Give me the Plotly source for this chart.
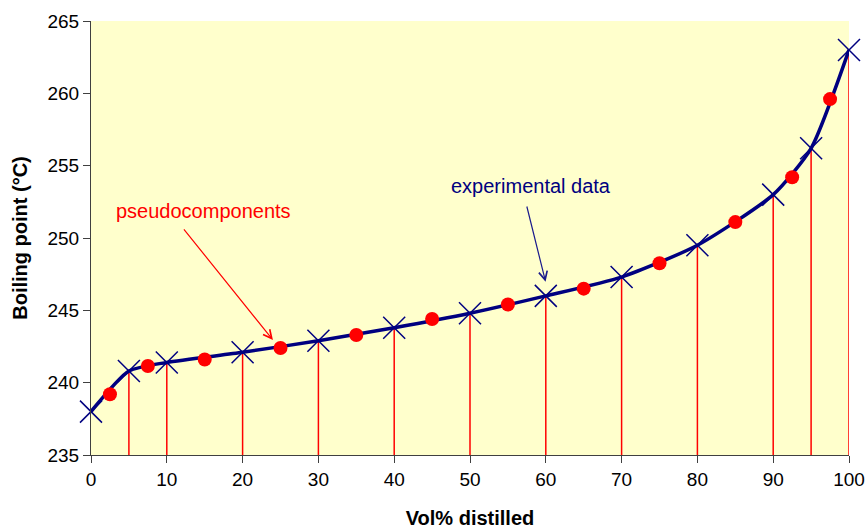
import plotly.graph_objects as go

# Distillation curve: measured boiling points vs. volume % distilled
exp_vol = [0, 5, 10, 20, 30, 40, 50, 60, 70, 80, 90, 95, 100]
exp_bp = [238.0, 240.8, 241.4, 242.1, 242.9, 243.8, 244.8, 246.0, 247.3, 249.5, 253.0, 256.2, 263.0]

# Pseudocomponents taken at the mid-point of each cut
pc_vol = [2.5, 7.5, 15, 25, 35, 45, 55, 65, 75, 85, 92.5, 97.5]
pc_bp = [239.2, 241.15, 241.6, 242.4, 243.3, 244.4, 245.4, 246.5, 248.25, 251.1, 254.2, 259.6]

x_ticks = list(range(0, 101, 10))
y_ticks = list(range(235, 266, 5))

Y_MIN, Y_MAX = 235, 265

NAVY = "#000080"
RED = "#FF0000"
FONT = "Arial, Liberation Sans, sans-serif"

fig = go.Figure()

# Cut-point drop lines from the curve down to the x axis
cut_x, cut_y = [], []
for v, b in zip(exp_vol[1:], exp_bp[1:]):
    cut_x += [v, v, None]
    cut_y += [Y_MIN, b, None]
fig.add_trace(go.Scatter(x=cut_x, y=cut_y, mode="lines",
                         line=dict(color=RED, width=1.5),
                         hoverinfo="skip", showlegend=False))

# Smoothed distillation curve
fig.add_trace(go.Scatter(x=exp_vol, y=exp_bp, mode="lines",
                         line=dict(color=NAVY, width=3.5, shape="spline", smoothing=0.6),
                         hoverinfo="skip", showlegend=False))

# Experimental points
fig.add_trace(go.Scatter(x=exp_vol, y=exp_bp, mode="markers",
                         marker=dict(symbol="x-thin", size=22,
                                     line=dict(color=NAVY, width=1.5)),
                         cliponaxis=False, name="experimental data", showlegend=False))

# Pseudocomponents
fig.add_trace(go.Scatter(x=pc_vol, y=pc_bp, mode="markers",
                         marker=dict(symbol="circle", size=14, color=RED),
                         cliponaxis=False, name="pseudocomponents", showlegend=False))

# Labels with pointer arrows
fig.add_annotation(x=14.8, y=251.9, text="pseudocomponents", showarrow=False,
                   font=dict(family=FONT, size=20, color=RED))
fig.add_annotation(x=24.0, y=242.95, ax=12.1, ay=250.7, axref="x", ayref="y",
                   text="", showarrow=True, arrowhead=5, arrowsize=1.4,
                   arrowwidth=1.2, arrowcolor=RED)

fig.add_annotation(x=58.0, y=253.6, text="experimental data", showarrow=False,
                   font=dict(family=FONT, size=20, color=NAVY))
fig.add_annotation(x=59.97, y=246.98, ax=57.45, ay=252.28, axref="x", ayref="y",
                   text="", showarrow=True, arrowhead=5, arrowsize=1.4,
                   arrowwidth=1.2, arrowcolor="#1a1a8c")

fig.update_layout(
    width=867, height=529,
    margin=dict(l=91, r=18, t=21, b=74, autoexpand=False),
    paper_bgcolor="white",
    plot_bgcolor="#FFFFCC",
    font=dict(family=FONT, color="black"),
    showlegend=False,
)

fig.update_xaxes(
    range=[0, 100], tickvals=x_ticks, ticktext=[str(t) for t in x_ticks],
    automargin=False,
    showgrid=False, zeroline=False,
    showline=True, linecolor="#404040", linewidth=1,
    ticks="outside", ticklen=7, tickcolor="#404040",
    tickfont=dict(family=FONT, size=19, color="black"),
    title=dict(text="<b>Vol% distilled</b>", standoff=22,
               font=dict(family=FONT, size=20, color="black")),
)
fig.update_yaxes(
    range=[Y_MIN, Y_MAX], tickvals=y_ticks, ticktext=[str(t) for t in y_ticks],
    automargin=False,
    showgrid=False, zeroline=False,
    showline=True, linecolor="#404040", linewidth=1,
    ticks="outside", ticklen=7, tickcolor="#404040",
    tickfont=dict(family=FONT, size=19, color="black"),
    title=dict(text="<b>Boiling point (°C)</b>", standoff=14,
               font=dict(family=FONT, size=20, color="black")),
)

fig.write_html("out.html")
